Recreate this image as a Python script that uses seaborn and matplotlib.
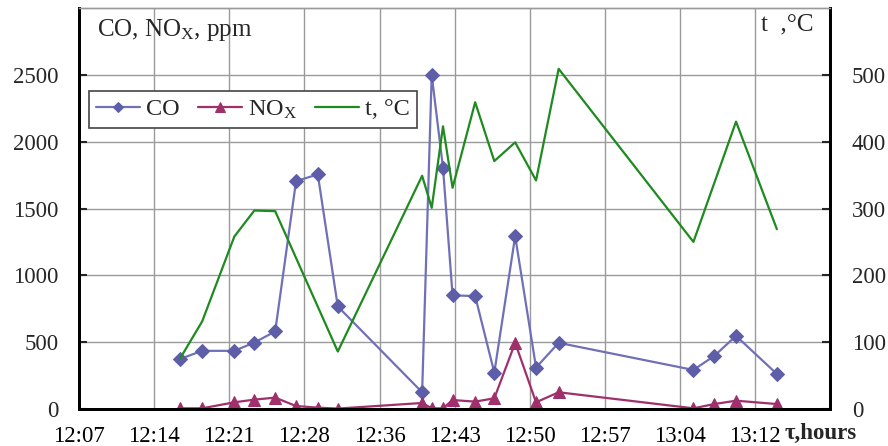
import matplotlib
matplotlib.use("Agg")
import matplotlib.pyplot as plt
import seaborn as sns
import pandas as pd

# ---- data ----
times = ["12:16:54", "12:19:00", "12:22:05", "12:24:00", "12:26:00", "12:28:00", "12:30:05",
         "12:32:00", "12:40:05", "12:41:00", "12:42:05", "12:43:00", "12:45:10", "12:47:00",
         "12:49:00", "12:51:00", "12:53:10", "13:06:05", "13:08:05", "13:10:10", "13:14:05"]
co_ppm = [375, 435, 435, 497, 580, 1705, 1755, 767, 125, 2500, 1805, 850, 845, 272,
          1293, 310, 495, 292, 397, 547, 262]
nox_ppm = [5, 5, 50, 70, 85, 22, 10, 3, 45, 5, 5, 67, 55, 80,
           495, 50, 125, 5, 37, 62, 37]
temp_times = ["12:16:54", "12:19:00", "12:22:05", "12:24:00", "12:26:00", "12:32:00",
              "12:40:05", "12:41:00", "12:42:05", "12:43:00", "12:45:10", "12:47:00",
              "12:49:00", "12:51:00", "12:53:10", "13:06:05", "13:10:10", "13:14:05"]
temp_c = [76, 131, 258, 297, 296, 86, 349, 301, 423, 331, 459, 371, 399, 342, 509, 250, 430, 269]

x_tick_labels = ["12:07", "12:14", "12:21", "12:28", "12:36", "12:43", "12:50", "12:57", "13:04", "13:12"]
left_ticks = [0, 500, 1000, 1500, 2000, 2500]
right_ticks = [0, 100, 200, 300, 400, 500]


def to_min(s):
    h, m, sec = map(int, s.split(":"))
    return h * 60 + m + sec / 60.0


df = pd.DataFrame({"t": [to_min(s) for s in times], "CO": co_ppm, "NOx": nox_ppm})
dft = pd.DataFrame({"t": [to_min(s) for s in temp_times], "temp": temp_c})

# Excel-like axis: 0.005 day steps starting at 0.505 day
x0 = 0.505 * 1440
step = 0.005 * 1440
x_tick_pos = [x0 + step * i for i in range(len(x_tick_labels))]

sns.set_style("white")
plt.rcParams["font.family"] = ["Liberation Serif", "DejaVu Serif"]
plt.rcParams["mathtext.fontset"] = "custom"
plt.rcParams["mathtext.rm"] = "Liberation Serif"
plt.rcParams["mathtext.it"] = "Liberation Serif:italic"
plt.rcParams["mathtext.bf"] = "Liberation Serif:bold"

FS = 16.5
co_col = "#7070B8"
co_mark = "#5E5EA8"
nox_col = "#A0306C"
t_col = "#1F8A1F"
grid_col = "#9A9A9A"

fig = plt.figure(figsize=(8.88, 4.46), dpi=100)
ax = fig.add_axes([0.089, 0.083, 0.846, 0.899])
ax2 = ax.twinx()

sns.lineplot(data=df, x="t", y="CO", ax=ax, color=co_col, lw=1.6, marker="D", markersize=7,
             markerfacecolor=co_mark, markeredgecolor=co_mark, estimator=None, legend=False)
sns.lineplot(data=df, x="t", y="NOx", ax=ax, color=nox_col, lw=1.6, marker="^", markersize=9,
             markerfacecolor=nox_col, markeredgecolor=nox_col, estimator=None, legend=False)
sns.lineplot(data=dft, x="t", y="temp", ax=ax2, color=t_col, lw=1.6, estimator=None, legend=False)

ax.set_xlim(x0, x0 + step * 10)
ax.set_ylim(0, 3000)
ax2.set_ylim(0, 600)

ax.set_xticks(x_tick_pos)
ax.set_xticklabels(x_tick_labels)
ax.set_yticks(left_ticks)
ax.set_yticklabels([str(v) for v in left_ticks])
ax2.set_yticks(right_ticks)
ax2.set_yticklabels([str(v) for v in right_ticks])

ax.set_xlabel("")
ax.set_ylabel("")
ax2.set_ylabel("")

ax.grid(True, color=grid_col, lw=1.0)
ax.set_axisbelow(True)

ax.tick_params(axis="x", direction="in", length=5, width=1.5, pad=12, labelsize=FS, colors="black")
ax.tick_params(axis="y", direction="in", length=6, width=1.5, pad=15, labelsize=FS, left=True)
ax2.tick_params(axis="y", direction="in", length=6, width=1.5, pad=15.5, labelsize=FS, right=True)

for a in (ax, ax2):
    a.spines["top"].set_color(grid_col)
    a.spines["top"].set_linewidth(1.0)
    a.spines["left"].set_color("black")
    a.spines["left"].set_linewidth(2)
    a.spines["bottom"].set_color("black")
    a.spines["bottom"].set_linewidth(2)
    a.spines["right"].set_color("black")
    a.spines["right"].set_linewidth(2)

ax.text(0.024, 0.945, r"CO, NO$_\mathrm{X}$, ppm", transform=ax.transAxes, fontsize=18,
        ha="left", va="center")
ax.text(0.977, 0.958, "t  ,°C", transform=ax.transAxes, fontsize=18, ha="right", va="center")
fig.text(0.884, 0.028, "τ,hours", fontsize=FS, fontweight="bold", ha="left", va="center")

handles = [ax.lines[0], ax.lines[1], ax2.lines[0]]
labels = ["CO", r"NO$_\mathrm{X}$", "t, °C"]
leg = ax.legend(handles, labels, loc="upper left", bbox_to_anchor=(0.0133, 0.793), ncol=3,
                fontsize=17.5, frameon=True, fancybox=False, edgecolor="#444444",
                handlelength=1.8, handletextpad=0.25, columnspacing=0.75, borderpad=0.3,
                borderaxespad=0, markerscale=0.75, framealpha=1)
leg.get_frame().set_linewidth(1.2)
leg.set_zorder(10)

fig.savefig("out.png", dpi=100)
